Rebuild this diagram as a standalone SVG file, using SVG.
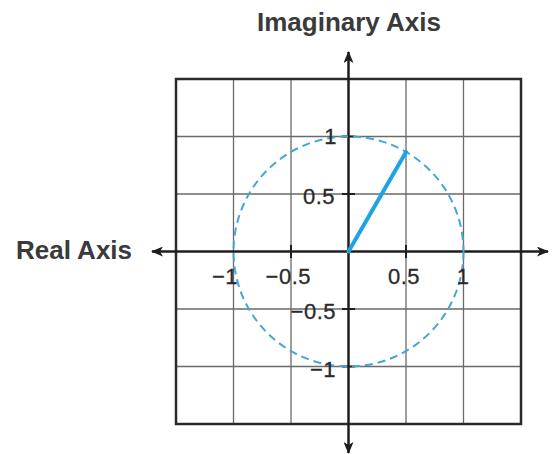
<svg xmlns="http://www.w3.org/2000/svg" width="553" height="454" viewBox="0 0 553 454">
<style>
.grid{stroke:#6a6a6a;stroke-width:1.3;fill:none}
.border{stroke:#2a2a2a;stroke-width:2.5;fill:none}
.axis{stroke:#1e1e1e;stroke-width:2.5;fill:none}
.tick{stroke:#1e1e1e;stroke-width:2}
.lbl{font-family:"Liberation Sans",Arial,sans-serif;font-size:22px;letter-spacing:0.5px;fill:#2a2a2a;stroke:#2a2a2a;stroke-width:0.3}
.title{font-family:"Liberation Sans",Arial,sans-serif;font-size:26px;font-weight:bold;fill:#3a3a3a}
.circle{stroke:#45a6d6;stroke-width:2;stroke-dasharray:8 5;fill:none}
.vec{stroke:#1ea3e3;stroke-width:4;stroke-linecap:round}
</style>
<defs>
<marker id="arr" viewBox="0 0 12 10" refX="11" refY="5" markerWidth="12" markerHeight="10" markerUnits="userSpaceOnUse" orient="auto">
<path d="M0,0 L12,5 L0,10 L3,5 Z" fill="#1e1e1e"/>
</marker>
</defs>
<rect width="553" height="454" fill="#fff"/>
<g id="grid">
<path class="grid" d="M233.5,79V424M291,79V424M406,79V424M463.5,79V424M176,136.5H521M176,194H521M176,309H521M176,366.5H521"/>
<rect class="border" x="176" y="79" width="345" height="345"/>
</g>
<g id="connectors">
<line class="axis" x1="348.5" y1="445" x2="348.5" y2="52" marker-end="url(#arr)"/>
<line class="axis" x1="348.5" y1="445" x2="348.5" y2="453" marker-end="url(#arr)"/>
<line class="axis" x1="160" y1="251.5" x2="548" y2="251.5" marker-end="url(#arr)"/>
<line class="axis" x1="160" y1="251.5" x2="152" y2="251.5" marker-end="url(#arr)"/>
<path class="tick" d="M291,245V258M406,245V258M342,136.5H355M342,194H355M342,309H355M342,366.5H355"/>
</g>
<g id="unit-circle">
<circle class="circle" cx="348.5" cy="251.5" r="115"/>
<line class="vec" x1="348.5" y1="251.5" x2="406" y2="152"/>
</g>
<g id="labels">
<text class="title" x="349" y="31" text-anchor="middle">Imaginary Axis</text>
<text class="title" x="74" y="259" text-anchor="middle">Real Axis</text>
<text class="lbl" x="337" y="144" text-anchor="end">1</text>
<text class="lbl" x="335" y="204" text-anchor="end">0.5</text>
<text class="lbl" x="336" y="319" text-anchor="end">−0.5</text>
<text class="lbl" x="336" y="377" text-anchor="end">−1</text>
<text class="lbl" x="238" y="284" text-anchor="end">−1</text>
<text class="lbl" x="311" y="284" text-anchor="end">−0.5</text>
<text class="lbl" x="404" y="284" text-anchor="middle">0.5</text>
<text class="lbl" x="463" y="284" text-anchor="middle">1</text>
</g>
</svg>
